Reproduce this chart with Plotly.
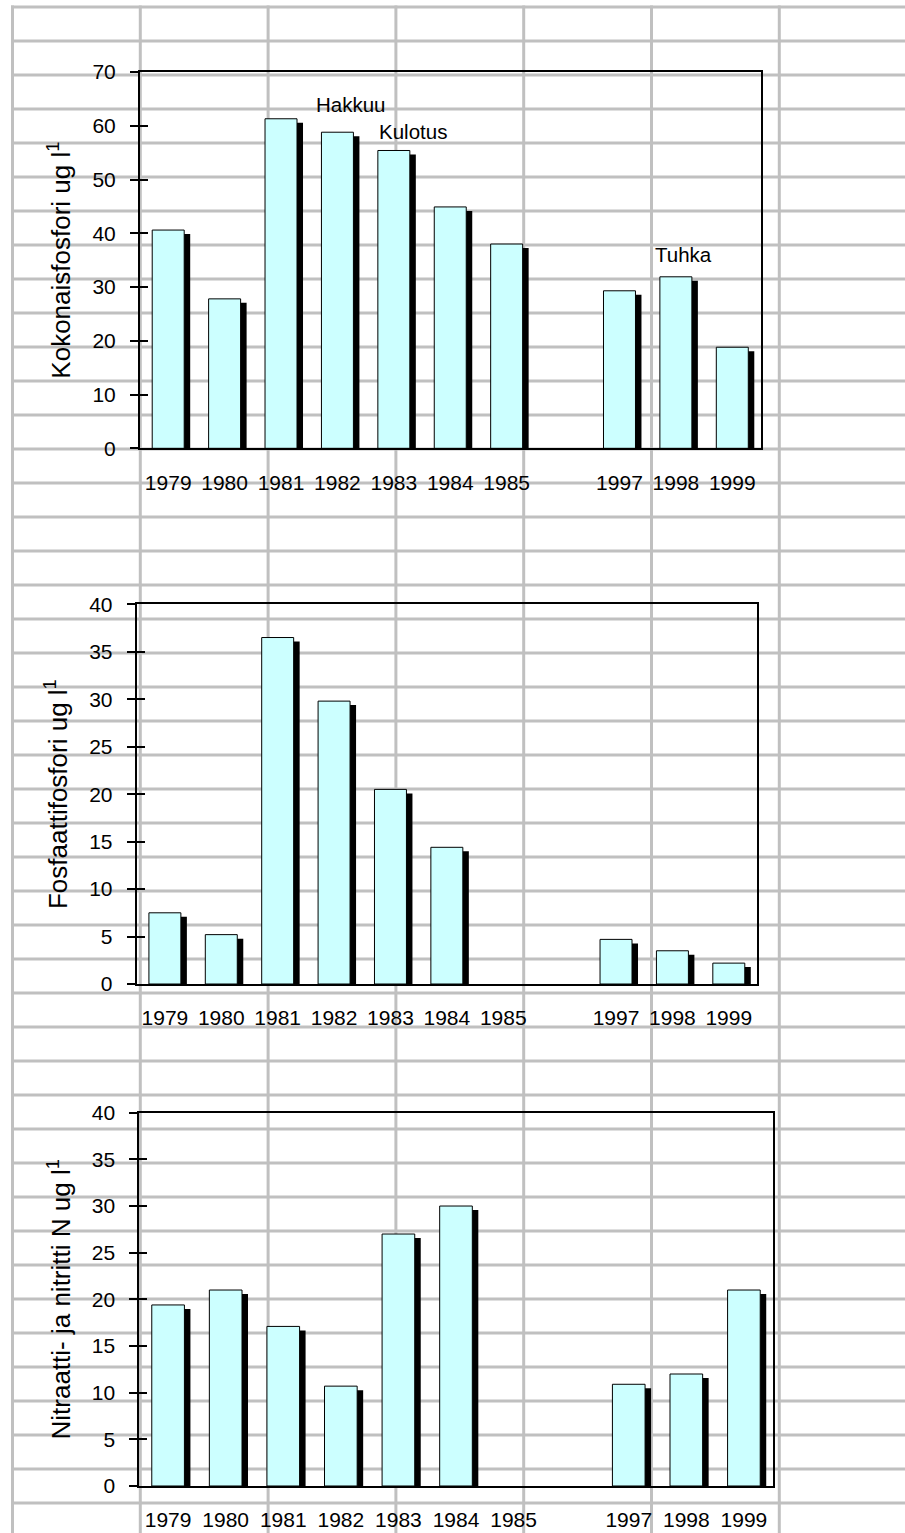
import plotly.graph_objects as go

# ---------------- data ----------------
years = ["1979", "1980", "1981", "1982", "1983", "1984", "1985", "1997", "1998", "1999"]
gap_label = " "
category_order = years[:7] + [gap_label] + years[7:]

kokonaisfosfori = [40.6, 27.8, 61.3, 58.8, 55.4, 44.9, 38.0, 29.3, 31.9, 18.8]
fosfaattifosfori = [7.5, 5.2, 36.5, 29.8, 20.5, 14.4, None, 4.7, 3.5, 2.2]
nitraatti_nitritti = [19.4, 21.0, 17.1, 10.7, 27.0, 30.0, None, 10.9, 12.0, 21.0]

titles = [
    "Kokonaisfosfori ug l<sup>1</sup>",
    "Fosfaattifosfori ug l<sup>1</sup>",
    "Nitraatti- ja nitritti N ug l<sup>1</sup>",
]
y_max = [70, 40, 40]
y_dtick = [10, 5, 5]

notes_text = ["Hakkuu", "Kulotus", "Tuhka"]
notes_cat = ["1982", "1983", "1998"]
notes_y = [64.0, 58.9, 36.0]

# ---------------- styling / layout constants ----------------
W, H = 905, 1533
FONT = "Arial, Liberation Sans, sans-serif"
BAR_FILL = "#CCFFFF"
BAR_W = 0.567
SHADOW_DX = 6.0   # px
SHADOW_DY = 4.0   # px
GRID_COLOR = "#C0C0C0"
TICK_SIZE = 21
TITLE_SIZE = 26

boxes = [  # left, top, right, bottom in px
    (140.0, 72.0, 760.5, 448.3),
    (136.7, 604.3, 757.0, 984.0),
    (139.3, 1112.7, 772.7, 1486.0),
]
note_shift = [14, 19, 8]

fig = go.Figure()
n_cat = len(category_order)
layout = {}
annotations = []

for i, vals in enumerate([kokonaisfosfori, fosfaattifosfori, nitraatti_nitritti]):
    k = i + 1
    xs = "" if k == 1 else str(k)
    xa, ya = "x" + xs, "y" + xs
    left, top, right, bottom = boxes[i]
    cat_px = (right - left) / n_cat
    unit_px = (bottom - top) / y_max[i]
    dx = SHADOW_DX / cat_px
    dy = SHADOW_DY / unit_px
    shadow_vals = [None if v is None else max(v - dy, 0) for v in vals]

    fig.add_trace(go.Bar(
        x=years, y=shadow_vals, xaxis=xa, yaxis=ya,
        width=BAR_W, offset=-BAR_W / 2 + dx,
        marker=dict(color="black", line=dict(width=0)),
        hoverinfo="skip", showlegend=False,
    ))
    fig.add_trace(go.Bar(
        x=years, y=vals, xaxis=xa, yaxis=ya,
        width=BAR_W, offset=-BAR_W / 2,
        marker=dict(color=BAR_FILL, line=dict(color="black", width=1)),
        showlegend=False,
    ))
    # dummy trace for overlay tick axis (cross ticks)
    ov = "y" + str(k + 3)
    fig.add_trace(go.Scatter(x=[years[0]], y=[None], xaxis=xa, yaxis=ov,
                             mode="markers", showlegend=False, hoverinfo="skip"))

    layout["xaxis" + xs] = dict(
        domain=[left / W, right / W], anchor=ya,
        type="category", categoryorder="array", categoryarray=category_order,
        range=[-0.5, n_cat - 0.5],
        showline=True, linecolor="black", linewidth=2, mirror=True,
        ticks="", showgrid=False, zeroline=False, automargin=False,
        tickfont=dict(family=FONT, size=TICK_SIZE, color="black"),
        ticklabelstandoff=14,
    )
    layout["yaxis" + xs] = dict(
        domain=[1 - bottom / H, 1 - top / H], anchor=xa,
        range=[0, y_max[i]], dtick=y_dtick[i], tick0=0,
        showline=True, linecolor="black", linewidth=2, mirror=True,
        ticks="outside", ticklen=8, tickwidth=2, tickcolor="black",
        showgrid=False, zeroline=False, automargin=False,
        tickfont=dict(family=FONT, size=TICK_SIZE, color="black"),
        ticklabelstandoff=10,
        title=dict(text=titles[i], font=dict(family=FONT, size=TITLE_SIZE, color="black"),
                   standoff=14),
    )
    layout["yaxis" + str(k + 3)] = dict(
        overlaying=ya, anchor=xa, side="left",
        range=[0, y_max[i]], dtick=y_dtick[i], tick0=0,
        ticks="inside", ticklen=8, tickwidth=2, tickcolor="black",
        showticklabels=False, showline=False, showgrid=False, zeroline=False,
        automargin=False,
    )

# annotations on the first chart (category axis -> use category index)
for t, c, y, s in zip(notes_text, notes_cat, notes_y, note_shift):
    annotations.append(dict(text=t, x=category_order.index(c), y=y, xref="x", yref="y",
                            xshift=s, showarrow=False,
                            font=dict(family=FONT, size=20.5, color="black")))

# spreadsheet grid background
shapes = []
GX0, GSTEP_X = 12.5, 127.8
GY0, GSTEP_Y = 7.0, 34.0
gx = GX0
while gx < W + 5:
    shapes.append(dict(type="line", xref="paper", yref="paper", layer="below",
                       x0=gx / W, x1=gx / W, y0=1 - (GY0 - 1.5) / H, y1=0,
                       line=dict(color=GRID_COLOR, width=3)))
    gx += GSTEP_X
gy = GY0
while gy < H + 5:
    shapes.append(dict(type="line", xref="paper", yref="paper", layer="below",
                       x0=(GX0 - 1.5) / W, x1=1, y0=1 - gy / H, y1=1 - gy / H,
                       line=dict(color=GRID_COLOR, width=3)))
    gy += GSTEP_Y

fig.update_layout(
    width=W, height=H,
    margin=dict(l=0, r=0, t=0, b=0),
    paper_bgcolor="white", plot_bgcolor="rgba(0,0,0,0)",
    barmode="overlay", showlegend=False,
    font=dict(family=FONT, color="black"),
    shapes=shapes, annotations=annotations,
    **layout,
)

fig.write_html("out.html")
